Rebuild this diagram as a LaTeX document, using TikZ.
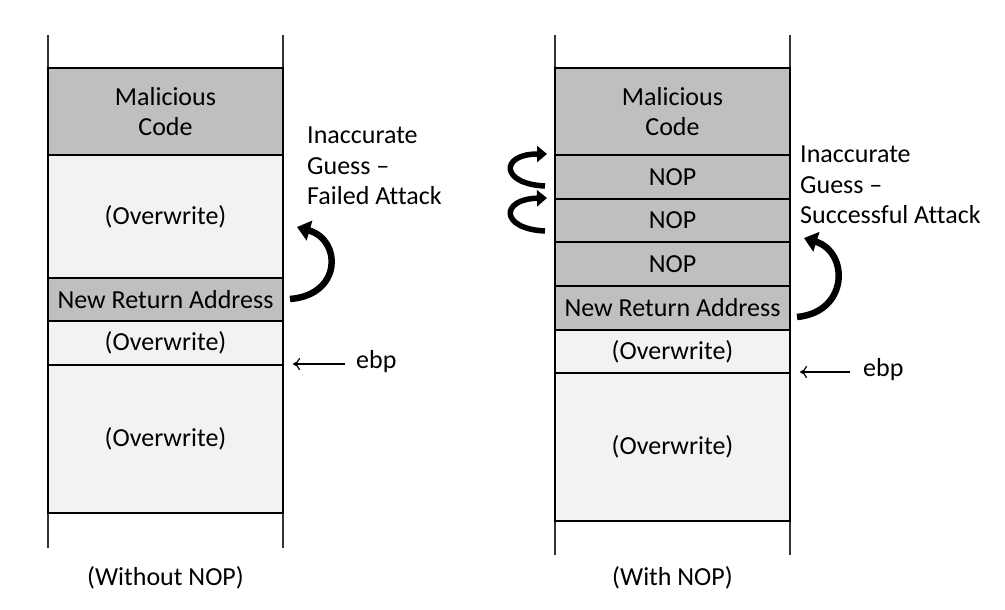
\documentclass[tikz,border=0pt]{standalone}
\usepackage{fontspec}
\setmainfont[Ligatures=NoCommon]{Carlito}
\usetikzlibrary{arrows.meta}
\definecolor{dgray}{HTML}{BFBFBF}
\definecolor{lgray}{HTML}{F2F2F2}
\tikzset{
  cell/.style={draw=black, line width=2.6pt, rectangle, minimum width=235pt, inner sep=0pt, outer sep=0pt, align=center, font=\fontsize{26}{30.5}\selectfont},
  dcell/.style={cell, fill=dgray},
  lcell/.style={cell, fill=lgray},
  rail/.style={draw=black!80, line width=1.3pt},
  lbl/.style={inner sep=0pt, align=left, font=\fontsize{26}{30.5}\selectfont},
  ptr/.style={line width=1.2pt, -{To[length=7pt,width=12pt]}},
  jump/.style={line width=6.5pt, -{Triangle[length=13pt,width=20pt]}},
  hop/.style={line width=5.5pt, -{Triangle[length=10pt,width=16pt]}}
}
\begin{document}
\begin{tikzpicture}[x=1pt,y=-1pt]
\useasboundingbox (0,0) rectangle (1005,610);
% rails
\coordinate (la1) at (48,35); \coordinate (la2) at (48,548);
\coordinate (lb1) at (283,35); \coordinate (lb2) at (283,548);
\coordinate (ra1) at (555,35); \coordinate (ra2) at (555,555);
\coordinate (rb1) at (790,35); \coordinate (rb2) at (790,555);
\draw[rail] (la1) -- (la2); \draw[rail] (lb1) -- (lb2);
\draw[rail] (ra1) -- (ra2); \draw[rail] (rb1) -- (rb2);
% left stack
\node[dcell, minimum height=87pt] (lmc) at (165.5,111.5) {Malicious\\Code};
\node[lcell, minimum height=123pt] (low1) at (165.5,216.5) {(Overwrite)};
\node[dcell, minimum height=43pt] (lnra) at (165.5,299.5) {New Return Address};
\node[lcell, minimum height=44pt] (low2) at (165.5,343) {(Overwrite)};
\node[lcell, minimum height=148pt] (low3) at (165.5,439) {(Overwrite)};
\node[lbl, anchor=center] (lcap) at (165.5,578) {(Without NOP)};
% right stack
\node[dcell, minimum height=87pt] (rmc) at (672.5,111.5) {Malicious\\Code};
\node[dcell, minimum height=44pt] (nop1) at (672.5,177) {NOP};
\node[dcell, minimum height=43pt] (nop2) at (672.5,220.5) {NOP};
\node[dcell, minimum height=44pt] (nop3) at (672.5,264) {NOP};
\node[dcell, minimum height=44pt] (rnra) at (672.5,308) {New Return Address};
\node[lcell, minimum height=43pt] (row2) at (672.5,351.5) {(Overwrite)};
\node[lcell, minimum height=148pt] (row3) at (672.5,447) {(Overwrite)};
\node[lbl, anchor=center] (rcap) at (672.5,578) {(With NOP)};
% side labels
\node[lbl, anchor=north west] (lguess) at (307,127) {Inaccurate\\Guess --\\Failed Attack};
\node[lbl, anchor=north west] (rguess) at (800,146) {Inaccurate\\Guess --\\Successful Attack};
% ebp pointers
\node[lbl, anchor=west] (lebp) at (356,362) {ebp};
\node[lbl, anchor=west] (rebp) at (863,370) {ebp};
\coordinate (lebpt) at (293,364);
\coordinate (rebpt) at (800,372);
\draw[ptr] (lebp.west) ++(-11,2) -- (lebpt);
\draw[ptr] (rebp.west) ++(-13,2) -- (rebpt);
% big jump arrows
\coordinate (lj0) at (290,299);
\coordinate (lj1) at (297,227);
\draw[jump] (lj0) .. controls (342,295) and (342,240) .. (lj1);
\coordinate (rj0) at (797,317);
\coordinate (rj1) at (804,238);
\draw[jump] (rj0) .. controls (849,312) and (849,252) .. (rj1);
% small hop arrows
\coordinate (h1a) at (545,186);
\coordinate (h1b) at (547,154);
\draw[hop] (h1a) .. controls (500,184) and (500,154) .. (h1b);
\coordinate (h2a) at (545,231);
\coordinate (h2b) at (547,198);
\draw[hop] (h2a) .. controls (500,229) and (500,199) .. (h2b);
\end{tikzpicture}
\end{document}
